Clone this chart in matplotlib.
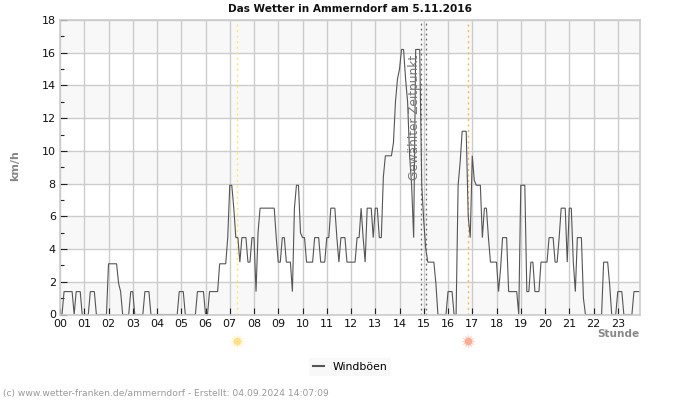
import numpy as np
import matplotlib
matplotlib.use("Agg")
import matplotlib.pyplot as plt
from matplotlib.lines import Line2D

TITLE = "Das Wetter in Ammerndorf am 5.11.2016"
hour_labels = [f"{h:02d}" for h in range(24)]
y_major = list(range(0, 19, 2))
y_minor = list(range(1, 18, 2))

h00 = [0,0,1.4,1.4,1.4,1.4,1.4,0,1.4,1.4,1.4,0]
h01 = [0,0,0,1.4,1.4,1.4,0,0,0,0,0,0]
h02 = [3.1,3.1,3.1,3.1,3.1,1.9,1.4,0,0,0,0,1.4]
h03 = [1.4,0,0,0,0,0,1.4,1.4,1.4,0,0,0]
h04 = [0,0,0,0,0,0,0,0,0,0,0,1.4]
h05 = [1.4,1.4,0,0,0,0,0,0,1.4,1.4,1.4,1.4]
h06 = [0,0,1.4,1.4,1.4,1.4,1.4,3.1,3.1,3.1,3.1,4.7]
h07 = [7.9,7.9,6.5,4.7,4.7,3.2,4.7,4.7,4.7,3.2,3.2,4.7]
h08 = [4.7,1.4,5,6.5,6.5,6.5,6.5,6.5,6.5,6.5,6.5,4.7]
h09 = [3.2,3.2,4.7,4.7,3.2,3.2,3.2,1.4,6.5,7.9,7.9,5]
h10 = [4.7,4.7,3.2,3.2,3.2,3.2,4.7,4.7,4.7,3.2,3.2,3.2]
h11 = [4.7,4.7,6.5,6.5,6.5,4.7,3.2,4.7,4.7,4.7,3.2,3.2]
h12 = [3.2,3.2,3.2,4.7,4.7,6.5,4.7,3.2,6.5,6.5,6.5,4.7]
h13 = [6.5,6.5,4.7,4.7,8.4,9.7,9.7,9.7,9.7,10.5,13,14.4]
h14 = [15,16.2,16.2,14.4,13,9.7,7.9,4.7,16.2,16.2,16.2,7.9]
h15 = [5.7,4,3.2,3.2,3.2,3.2,1.9,0,0,0,0]
h16 = [0,1.4,1.4,1.4,0,0,7.9,9.3,11.2,11.2,11.2,6]
h17 = [4.7,9.7,8.2,7.9,7.9,7.9,4.7,6.5,6.5,4.7,3.2,3.2]
h18 = [3.2,3.2,1.4,2.8,4.7,4.7,4.7,1.4,1.4,1.4,1.4,1.4]
h19 = [0,7.9,7.9,7.9,1.4,1.4,3.2,3.2,1.4,1.4,1.4,3.2]
h20 = [3.2,3.2,3.2,4.7,4.7,4.7,3.2,3.2,4.7,6.5,6.5,6.5]
h21 = [3.2,6.5,6.5,3.2,1.4,4.7,4.7,4.7,1,0,0,0]
h22 = [0,0,0,0,0,0,3.2,3.2,3.2,1.8,0,0]
h23 = [0,1.4,1.4,1.4,0,0,0,0,0,1.4,1.4,1.4,1.4]
gusts = (h00+h01+h02+h03+h04+h05+h06+h07+h08+h09+h10+h11+
         h12+h13+h14+h15+h16+h17+h18+h19+h20+h21+h22+h23)
hours = np.arange(len(gusts)) / 12.0

sunrise = 7.28
sunset = 16.84
selected = [14.87, 15.1]

fig = plt.figure(figsize=(7, 4), dpi=100)
ax = fig.add_axes([60/700, 1-314.5/400, 580/700, 294.5/400])
ax.set_xlim(hours[0], hours[-1])
ax.set_ylim(0, 18)
for y0 in range(0, 18, 4):
    ax.axhspan(y0, y0+2, color="#f8f8f8", lw=0, zorder=0)
ax.set_xticks(range(24))
ax.set_xticklabels(hour_labels, fontsize=8)
ax.set_yticks(y_major)
ax.set_yticks(y_minor, minor=True)
ax.tick_params(axis="both", which="major", direction="in", length=5, width=0.8, color="#222", pad=3, labelsize=8, labelcolor="#111", zorder=7)
ax.tick_params(axis="y", which="minor", direction="in", length=3, width=0.8, color="#222")
ax.grid(True, which="major", color="#cccccc", lw=1, zorder=1)
ax.set_axisbelow(True)
for s in ax.spines.values():
    s.set_color("#cccccc")
    s.set_linewidth(1.2)
    s.set_zorder(6)
ax.axvline(sunrise, color="#ffe866", ls=(0, (1.5, 2.5)), lw=1, zorder=2)
ax.axvline(sunset, color="#ffb84d", ls=(0, (1.5, 2.5)), lw=1, zorder=2)
for s in selected:
    ax.axvline(s, color="#666666", ls=(0, (1.5, 2.5)), lw=0.9, zorder=2)
ax.plot(hours, gusts, color="#555555", lw=0.8, zorder=3, solid_joinstyle="miter", label="Windböen")
ax.text(14.62, 12.04, "Gewählter Zeitpunkt", rotation=90, ha="center", va="center", fontsize=8.7, color="#777777", zorder=4)

tr = ax.get_xaxis_transform()
for x, c, rc in [(sunrise, "#ffe08a", "#ffeeb5"), (sunset, "#ffab91", "#ffcdbd")]:
    ax.scatter([x], [-0.0905], s=110, marker=(12, 1, 0), color=rc, lw=0, transform=tr, clip_on=False, zorder=5)
    ax.scatter([x], [-0.0905], s=26, marker="o", color=c, lw=0, transform=tr, clip_on=False, zorder=6)

fig.text(350/700, 1-8.5/400, TITLE, ha="center", va="center", fontsize=7.6, fontweight="bold", color="#111111")
fig.text(15.5/700, 1-166/400, "km/h", rotation=90, ha="center", va="center", fontsize=8, fontweight="bold", color="#888888")
fig.text(639/700, 1-334/400, "Stunde", ha="right", va="center", fontsize=7.6, fontweight="bold", color="#888888")
fig.text(3/700, 1-393.5/400, "(c) www.wetter-franken.de/ammerndorf - Erstellt: 04.09.2024 14:07:09", ha="left", va="center", fontsize=6.6, color="#999999")

leg = fig.legend(handles=[Line2D([], [], color="#555555", lw=1.5, label="Windböen")],
                 loc="center", bbox_to_anchor=(350/700, 1-367/400), fontsize=7.8, frameon=True,
                 facecolor="#f8f8f8", edgecolor="none", fancybox=False, framealpha=1,
                 handlelength=1.0, handletextpad=0.8, borderpad=0.4)
fig.savefig("out.png", dpi=100)
